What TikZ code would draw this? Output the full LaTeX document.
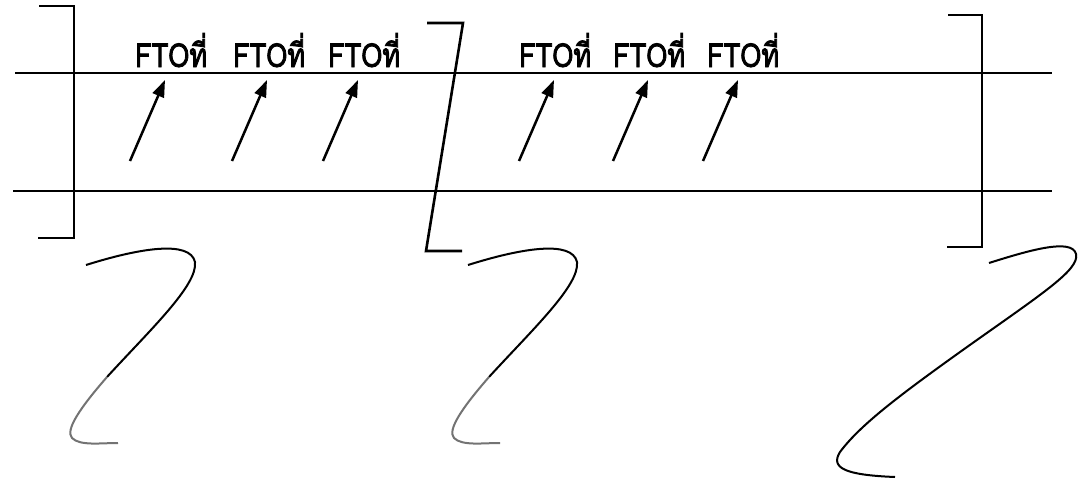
\documentclass[tikz,border=0pt]{standalone}
\usepackage{fontspec}
\newfontfamily\thaifont[Script=Thai,FakeStretch=0.82,FakeBold=2.5]{Loma}
\usetikzlibrary{arrows.meta}
\begin{document}
\begin{tikzpicture}[x=1pt,y=-1pt,
  rail/.style={line width=2pt},
  brk/.style={line width=2.6pt},
  ptr/.style={line width=2.5pt,-{Triangle[length=17pt,width=12pt]}},
  lbl/.style={inner sep=0pt,anchor=base west,font=\thaifont\fontsize{33}{33}\selectfont},
  wave/.style={line width=2pt},
  fade/.style={line width=2pt,draw=black!55}]
\useasboundingbox (0,0) rectangle (1086,479);
% rails
\coordinate (t1) at (15,73); \coordinate (t2) at (1052,73);
\coordinate (b1) at (13,191); \coordinate (b2) at (1052,191);
\draw[rail] (t1) -- (t2);
\draw[rail] (b1) -- (b2);
% brackets
\coordinate (L1) at (39,6); \coordinate (L2) at (74,6); \coordinate (L3) at (74,238); \coordinate (L4) at (38,238);
\draw[brk] (L1) -- (L2) -- (L3) -- (L4);
\coordinate (M1) at (427,23); \coordinate (M2) at (463,23); \coordinate (M3) at (426,251); \coordinate (M4) at (462,251);
\draw[brk] (M1) -- (M2) -- (M3) -- (M4);
\coordinate (R1) at (948,15); \coordinate (R2) at (982,15); \coordinate (R3) at (982,247); \coordinate (R4) at (947,247);
\draw[brk] (R1) -- (R2) -- (R3) -- (R4);
% labels
\node[lbl] (f1) at (135,67) {FTOที่};
\node[lbl] (f2) at (233,67) {FTOที่};
\node[lbl] (f3) at (328,67) {FTOที่};
\node[lbl] (f4) at (519,67) {FTOที่};
\node[lbl] (f5) at (613,67) {FTOที่};
\node[lbl] (f6) at (707,67) {FTOที่};
% arrows
\coordinate (a1) at (130,161); \coordinate (h1) at (165,80);
\coordinate (a2) at (232,161); \coordinate (h2) at (267,80);
\coordinate (a3) at (323,161); \coordinate (h3) at (358,80);
\coordinate (a4) at (519,161); \coordinate (h4) at (554,80);
\coordinate (a5) at (613,161); \coordinate (h5) at (648,80);
\coordinate (a6) at (703,161); \coordinate (h6) at (738,80);
\foreach \i in {1,...,6} \draw[ptr] (a\i) -- (h\i);
% break curves
\draw[wave] (86,265) .. controls (140,248) and (190,240) .. (195,262)
  .. controls (198,285) and (150,330) .. (107,377);
\draw[fade] (107,377) .. controls (80,408) and (65,430) .. (72,438)
  .. controls (80,446) and (100,443) .. (118,443);
\begin{scope}[xshift=382pt]
\draw[wave] (86,265) .. controls (140,248) and (190,240) .. (195,262)
  .. controls (198,285) and (150,330) .. (107,377);
\draw[fade] (107,377) .. controls (80,408) and (65,430) .. (72,438)
  .. controls (80,446) and (100,443) .. (118,443);
\end{scope}
\draw[wave] (989,263) .. controls (1030,250) and (1072,238) .. (1076,254)
  .. controls (1080,270) and (1040,295) .. (960,352)
  .. controls (900,395) and (860,425) .. (840,452)
  .. controls (830,468) and (845,475) .. (895,477);
\end{tikzpicture}
\end{document}
